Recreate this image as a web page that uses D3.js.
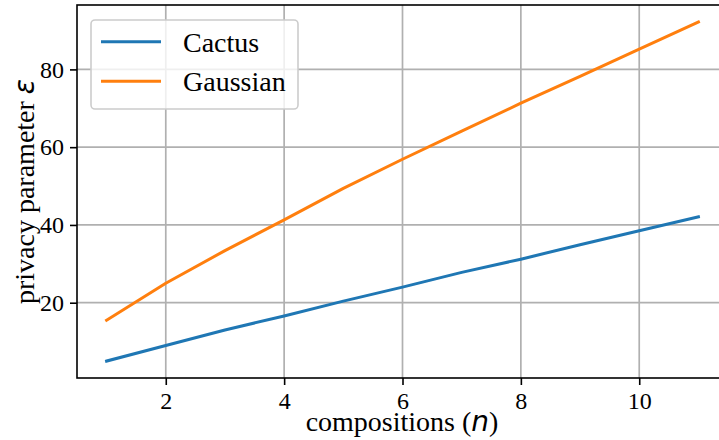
<!DOCTYPE html>
<html>
<head>
    <meta charset="utf-8">
    <style>
        body { margin: 0; background: #fff; }
        .label { font: 28px "Liberation Serif", "Times New Roman", serif; fill: #000; }
        .math { font-family: "DejaVu Sans", sans-serif; font-style: italic; }
        .legend text { font: 28px "Liberation Serif", "Times New Roman", serif; fill: #000; }
        .axis text { font: 24px "Liberation Serif", "Times New Roman", serif; fill: #000; }
    </style>
</head>
<body>
    <svg width="719" height="440"></svg>

    <script src="https://cdnjs.cloudflare.com/ajax/libs/d3/7.8.5/d3.min.js"></script>

    <script>
        var compositions = [1, 2, 3, 4, 5, 6, 7, 8, 9, 10, 11];
        var cactus = [5.0, 9.0, 13.0, 16.6, 20.4, 24.0, 27.8, 31.2, 34.9, 38.5, 42.1];
        var gaussian = [15.5, 25.0, 33.4, 41.3, 49.4, 56.9, 64.1, 71.3, 78.2, 85.2, 92.2];
        var xTicks = [2, 4, 6, 8, 10];
        var yTicks = [20, 40, 60, 80];
        var seriesNames = ["Cactus", "Gaussian"];
        var seriesColors = ["#1f77b4", "#ff7f0e"];

        var svg = d3.select("svg");
        var pL = 77, pT = 5, pR = 728, pB = 378;

        // matplotlib style 5% margins
        var xPad = (11 - 1) * 0.05;
        var x = d3.scaleLinear().domain([1 - xPad, 11 + xPad]).range([pL, pR]);
        var ymin = d3.min(cactus), ymax = d3.max(gaussian);
        var yPad = (ymax - ymin) * 0.05;
        var y = d3.scaleLinear().domain([ymin - yPad, ymax + yPad]).range([pB, pT]);

        // grid
        var grid = svg.append("g");
        grid.selectAll(".vg").data(xTicks).enter().append("line")
            .attr("x1", function(d) { return x(d); }).attr("x2", function(d) { return x(d); })
            .attr("y1", pT).attr("y2", pB)
            .attr("stroke", "#b0b0b0").attr("stroke-width", 1.7);
        grid.selectAll(".hg").data(yTicks).enter().append("line")
            .attr("x1", pL).attr("x2", pR)
            .attr("y1", function(d) { return y(d); }).attr("y2", function(d) { return y(d); })
            .attr("stroke", "#b0b0b0").attr("stroke-width", 1.7);

        // lines
        var line = d3.line()
            .x(function(d, i) { return x(compositions[i]); })
            .y(function(d) { return y(d); });
        [cactus, gaussian].forEach(function(s, i) {
            svg.append("path").datum(s)
                .attr("fill", "none")
                .attr("stroke", seriesColors[i])
                .attr("stroke-width", 3)
                .attr("stroke-linejoin", "round")
                .attr("stroke-linecap", "square")
                .attr("d", line);
        });

        // axes
        var xAxis = svg.append("g").attr("class", "axis").attr("transform", "translate(0," + pB + ")")
            .call(d3.axisBottom(x).tickValues(xTicks).tickSize(7).tickPadding(6));
        var yAxis = svg.append("g").attr("class", "axis").attr("transform", "translate(" + pL + ",0)")
            .call(d3.axisLeft(y).tickValues(yTicks).tickSize(7).tickPadding(6));
        [xAxis, yAxis].forEach(function(a) {
            a.select(".domain").remove();
            a.selectAll(".tick line").attr("stroke", "#000").attr("stroke-width", 1.6);
        });
        xAxis.selectAll(".tick text").attr("dy", "0.74em");

        // spines
        svg.append("rect")
            .attr("x", pL).attr("y", pT)
            .attr("width", pR - pL).attr("height", pB - pT)
            .attr("fill", "none").attr("stroke", "#000").attr("stroke-width", 1.6);

        // axis labels
        var xl = svg.append("text").attr("class", "label")
            .attr("x", 402).attr("y", 431).attr("text-anchor", "middle");
        xl.append("tspan").text("compositions (");
        xl.append("tspan").attr("class", "math").text("n");
        xl.append("tspan").text(")");

        var yl = svg.append("text").attr("class", "label")
            .attr("transform", "translate(34," + ((pT + pB) / 2) + ") rotate(-90)")
            .attr("text-anchor", "middle");
        yl.append("tspan").text("privacy parameter ");
        yl.append("tspan").attr("class", "math").text("ε");

        // legend
        var lg = svg.append("g").attr("class", "legend");
        lg.append("rect")
            .attr("x", 91).attr("y", 20).attr("width", 207).attr("height", 89)
            .attr("rx", 4).attr("fill", "#fff").attr("fill-opacity", 0.8)
            .attr("stroke", "#cccccc").attr("stroke-width", 1.6);
        seriesNames.forEach(function(name, i) {
            var yy = 41.7 + i * 39.6;
            lg.append("line")
                .attr("x1", 101).attr("x2", 161).attr("y1", yy).attr("y2", yy)
                .attr("stroke", seriesColors[i]).attr("stroke-width", 3);
            lg.append("text").attr("x", 183).attr("y", yy + 10).text(name);
        });
    </script>
</body>
</html>
